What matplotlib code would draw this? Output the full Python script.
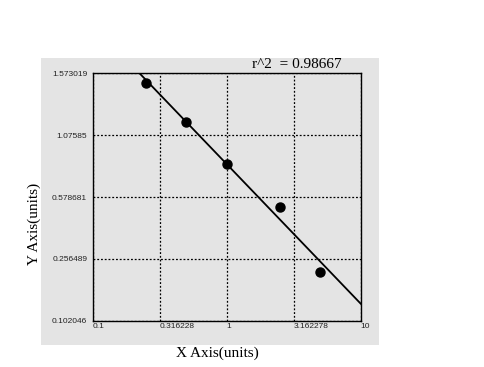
import numpy as np
import matplotlib
matplotlib.use("Agg")
import matplotlib.pyplot as plt
from matplotlib.patches import Rectangle

# Data
x_vals = [0.25, 0.5, 1.0, 2.5, 5.0]
y_vals = [1.4925, 1.1837, 0.8437, 0.5281, 0.2244]
y_ticks = [0.102046, 0.256489, 0.578681, 1.07585, 1.573019]
y_tick_labels = ["0.102046", "0.256489", "0.578681", "1.07585", "1.573019"]
x_ticks = [0.1, 0.316228, 1, 3.162278, 10]
x_tick_labels = ["0.1", "0.316228", "1", "3.162278", "10"]
r2_text = "r^2  = 0.98667"

pos = np.arange(len(y_ticks), dtype=float)
def fwd(y):
    return np.interp(y, y_ticks, pos)
def inv(p):
    return np.interp(p, pos, y_ticks)

fig = plt.figure(figsize=(4.85, 3.67), dpi=100)
fig.patch.set_facecolor("white")
panel = Rectangle((41/485, 1-345/367), (379-41)/485, (345-58)/367,
                  transform=fig.transFigure, facecolor="#e4e4e4",
                  edgecolor="none", zorder=-5)
fig.patches.append(panel)

ax = fig.add_axes([92.7/485, 1-320.7/367, (360.7-92.7)/485, (320.7-73.3)/367])
ax.set_zorder(2)
ax.set_facecolor("#e4e4e4")
ax.set_xscale("log")
ax.set_yscale("function", functions=(fwd, inv))
ax.set_xlim(0.1, 10)
ax.set_ylim(y_ticks[0], y_ticks[-1])

# Fit line in display space (log x vs scaled y)
lx = np.log10(x_vals)
py = fwd(np.array(y_vals))
m, b = np.polyfit(lx, py, 1)
lx_start = (pos[-1] - b) / m
lx_line = np.linspace(max(lx_start, -1), 1, 60)
ax.plot(10**lx_line, inv(m*lx_line + b), color="black", lw=1.3, zorder=3)
ax.plot(x_vals, y_vals, "o", color="black", ms=6.5, zorder=4)

ax.set_xticks(x_ticks)
ax.set_xticklabels(x_tick_labels)
ax.set_yticks(y_ticks)
ax.set_yticklabels(y_tick_labels)
ax.xaxis.set_minor_locator(matplotlib.ticker.NullLocator())
ax.tick_params(axis="both", length=0, labelsize=6, labelcolor="#222222")
ax.tick_params(axis="x", pad=2)
ax.tick_params(axis="y", pad=4)
for lab in ax.get_xticklabels():
    lab.set_horizontalalignment("left")
    lab.set_fontfamily("Liberation Sans")
for lab in ax.get_yticklabels():
    lab.set_fontfamily("Liberation Sans")

ax.grid(True, which="major", color="black", linestyle=(0, (1.5, 1.5)), lw=0.9)
for s in ax.spines.values():
    s.set_color("black")
    s.set_linewidth(1.0)

fig.text(217/485, 1-353/367, "X Axis(units)", ha="center", va="center",
         fontsize=11, family="Liberation Serif")
fig.text(34/485, 1-224/367, "Y Axis(units)", ha="center", va="center",
         rotation=90, fontsize=11, family="Liberation Serif")
fig.text(297/485, 1-64/367, r2_text, ha="center", va="center",
         fontsize=11, family="Liberation Serif")

fig.savefig("out.png", dpi=100)
